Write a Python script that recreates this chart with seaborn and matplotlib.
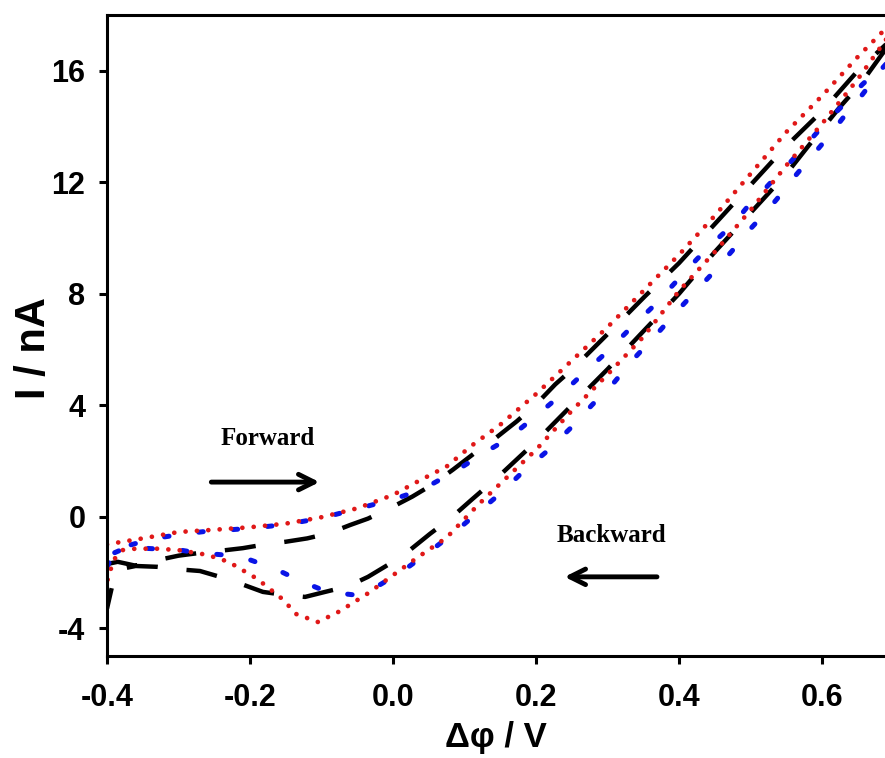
import numpy as np
import pandas as pd
import matplotlib
matplotlib.use("Agg")
import matplotlib.pyplot as plt
import seaborn as sns

# ---- cyclic voltammograms: potential (V) and current (nA) ----
black_fwd_v = [-0.40, -0.385, -0.36, -0.333, -0.30, -0.27, -0.24, -0.21, -0.18, -0.15, -0.12,
               -0.09, -0.06, -0.035, 0.0, 0.027, 0.055, 0.084, 0.117, 0.14, 0.173, 0.20, 0.227,
               0.252, 0.30, 0.322, 0.352, 0.376, 0.40, 0.45, 0.50, 0.55, 0.60, 0.65, 0.70]
black_fwd_i = [-1.70, -1.62, -1.76, -1.58, -1.40, -1.30, -1.22, -1.13, -1.00, -0.90, -0.78,
               -0.60, -0.30, -0.07, 0.36, 0.72, 1.15, 1.69, 2.34, 2.75, 3.42, 4.03, 4.75,
               5.32, 6.55, 7.12, 7.90, 8.50, 9.10, 10.50, 11.90, 13.30, 14.55, 16.00, 17.20]
black_bwd_v = [0.70, 0.684, 0.656, 0.625, 0.587, 0.55, 0.50, 0.45, 0.40, 0.35, 0.30, 0.25,
               0.20, 0.15, 0.11, 0.08, 0.052, 0.024, 0.0, -0.035, -0.063, -0.095, -0.123,
               -0.154, -0.182, -0.214, -0.242, -0.27, -0.295, -0.33, -0.36, -0.385, -0.392, -0.40]
black_bwd_i = [17.10, 16.60, 15.60, 14.70, 13.50, 12.30, 10.90, 9.50, 8.00, 6.65, 5.29, 4.00,
               2.70, 1.50, 0.61, -0.07, -0.61, -1.19, -1.62, -2.16, -2.50, -2.70, -2.88,
               -2.80, -2.70, -2.40, -2.16, -1.95, -1.90, -1.80, -1.77, -1.90, -2.40, -3.30]

blue_fwd_v = [-0.40, -0.39, -0.372, -0.336, -0.30, -0.266, -0.20, -0.15, -0.10, -0.05, 0.0,
              0.021, 0.056, 0.091, 0.126, 0.161, 0.196, 0.229, 0.262, 0.297, 0.332, 0.364,
              0.394, 0.425, 0.455, 0.476, 0.495, 0.516, 0.534, 0.555, 0.576, 0.611, 0.635,
              0.656, 0.677, 0.695]
blue_fwd_i = [-1.80, -1.30, -1.05, -0.79, -0.65, -0.54, -0.42, -0.28, -0.05, 0.28, 0.62,
              0.80, 1.19, 1.69, 2.27, 2.80, 3.53, 4.24, 5.04, 5.86, 6.76, 7.55,
              8.38, 9.24, 10.00, 10.50, 11.10, 11.65, 12.15, 12.70, 13.30, 14.30, 14.90,
              15.50, 16.00, 16.40]
blue_bwd_v = [0.695, 0.681, 0.667, 0.649, 0.629, 0.611, 0.555, 0.537, 0.517, 0.497, 0.474,
              0.443, 0.397, 0.369, 0.338, 0.308, 0.278, 0.248, 0.215, 0.182, 0.15, 0.115,
              0.082, 0.047, 0.012, -0.022, -0.057, -0.092, -0.13, -0.165, -0.20, -0.238,
              -0.273, -0.30, -0.336, -0.372, -0.39, -0.40]
blue_bwd_i = [16.40, 16.00, 15.50, 14.90, 14.30, 13.70, 12.00, 11.40, 10.80, 10.25, 9.53,
              8.63, 7.37, 6.55, 5.70, 4.78, 4.00, 3.17, 2.34, 1.62, 0.83, 0.07,
              -0.65, -1.33, -1.98, -2.50, -2.80, -2.70, -2.30, -1.87, -1.55, -1.37,
              -1.30, -1.19, -1.15, -1.10, -1.30, -1.80]

red_fwd_v = [-0.40, -0.39, -0.35, -0.30, -0.25, -0.20, -0.15, -0.10, -0.05, 0.0, 0.03,
             0.075, 0.11, 0.15, 0.20, 0.25, 0.30, 0.35, 0.40, 0.45, 0.50, 0.55, 0.60, 0.65, 0.70]
red_fwd_i = [-1.00, -0.95, -0.78, -0.55, -0.47, -0.38, -0.25, -0.02, 0.30, 0.78, 1.20,
             1.80, 2.55, 3.30, 4.40, 5.60, 6.80, 8.10, 9.40, 10.80, 12.30, 13.80, 15.10, 16.50, 17.80]
red_bwd_v = [0.70, 0.65, 0.60, 0.55, 0.50, 0.45, 0.40, 0.35, 0.30, 0.25, 0.20, 0.165, 0.12,
             0.075, 0.035, 0.0, -0.035, -0.075, -0.105, -0.135, -0.155, -0.19, -0.23, -0.26,
             -0.30, -0.33, -0.36, -0.378, -0.389, -0.398, -0.40]
red_bwd_i = [17.50, 15.70, 14.10, 12.60, 11.00, 9.50, 8.10, 6.45, 5.10, 3.80, 2.40, 1.55, 0.45,
             -0.75, -1.45, -2.10, -2.75, -3.40, -3.78, -3.50, -2.95, -2.23, -1.62, -1.37,
             -1.20, -1.15, -1.15, -1.20, -1.50, -2.10, -2.40]

x_ticks = [-0.4, -0.2, 0.0, 0.2, 0.4, 0.6]
x_tick_labels = ["-0.4", "-0.2", "0.0", "0.2", "0.4", "0.6"]
y_ticks = [-4, 0, 4, 8, 12, 16]
y_tick_labels = ["-4", "0", "4", "8", "12", "16"]


def loop_frame(fv, fi, bv, bi):
    return pd.DataFrame({"potential": list(fv) + list(bv),
                         "current": list(fi) + list(bi)})


sns.set_style("ticks")
plt.rcParams["font.family"] = ["Liberation Sans", "DejaVu Sans"]
plt.rcParams["font.weight"] = "bold"
for key in ["text.color", "axes.labelcolor", "xtick.color", "ytick.color", "axes.edgecolor"]:
    plt.rcParams[key] = "black"

fig = plt.figure(figsize=(8.85, 7.58), dpi=100)
ax = fig.add_axes([107 / 885, (758 - 656) / 758, 778 / 885, (656 - 15) / 758])

curves = [
    (loop_frame(black_fwd_v, black_fwd_i, black_bwd_v, black_bwd_i), "black", 3.2, (7.0, 6.5), "butt"),
    (loop_frame(blue_fwd_v, blue_fwd_i, blue_bwd_v, blue_bwd_i), "#0a14e6", 3.6, (0.9, 6.0), "round"),
    (loop_frame(red_fwd_v, red_fwd_i, red_bwd_v, red_bwd_i), "#e01818", 3.4, (0.01, 2.4), "round"),
]
for df, color, lw, dash, cap in curves:
    sns.lineplot(data=df, x="potential", y="current", sort=False, estimator=None,
                 color=color, lw=lw, ax=ax)
    line = ax.lines[-1]
    line.set_dashes(dash)
    line.set_dash_capstyle(cap)

ax.set_xlim(-0.4, 0.688)
ax.set_ylim(-5, 18)
ax.set_xticks(x_ticks)
ax.set_xticklabels(x_tick_labels)
ax.set_yticks(y_ticks)
ax.set_yticklabels(y_tick_labels)

for side in ["left", "bottom", "top"]:
    ax.spines[side].set_linewidth(2.2)
    ax.spines[side].set_color("black")
ax.spines["right"].set_visible(False)
ax.tick_params(direction="out", length=5.5, width=2.2, labelsize=22, colors="black")
ax.tick_params(axis="x", pad=14)
ax.tick_params(axis="y", pad=10)
for lab in ax.get_xticklabels() + ax.get_yticklabels():
    lab.set_fontweight("bold")

ax.set_xlabel("\u0394\u03c6 / V", fontsize=25, fontweight="bold", labelpad=6)
ax.set_ylabel("I / nA", fontsize=30, fontweight="bold")
ax.yaxis.set_label_coords(-0.068, 0.48)

# scan direction annotations
serif = ["Liberation Serif", "DejaVu Serif"]
ax.text(-0.176, 2.82, "Forward", family=serif, fontsize=18, fontweight="bold",
        ha="center", va="center", color="black")
ax.annotate("", xy=(-0.099, 1.24), xytext=(-0.258, 1.24),
            arrowprops=dict(arrowstyle="->", lw=3.5, color="black", mutation_scale=28))
ax.text(0.305, -0.69, "Backward", family=serif, fontsize=18, fontweight="bold",
        ha="center", va="center", color="black")
ax.annotate("", xy=(0.236, -2.16), xytext=(0.373, -2.16),
            arrowprops=dict(arrowstyle="->", lw=3.5, color="black", mutation_scale=28))

fig.savefig("out.png", dpi=100)
